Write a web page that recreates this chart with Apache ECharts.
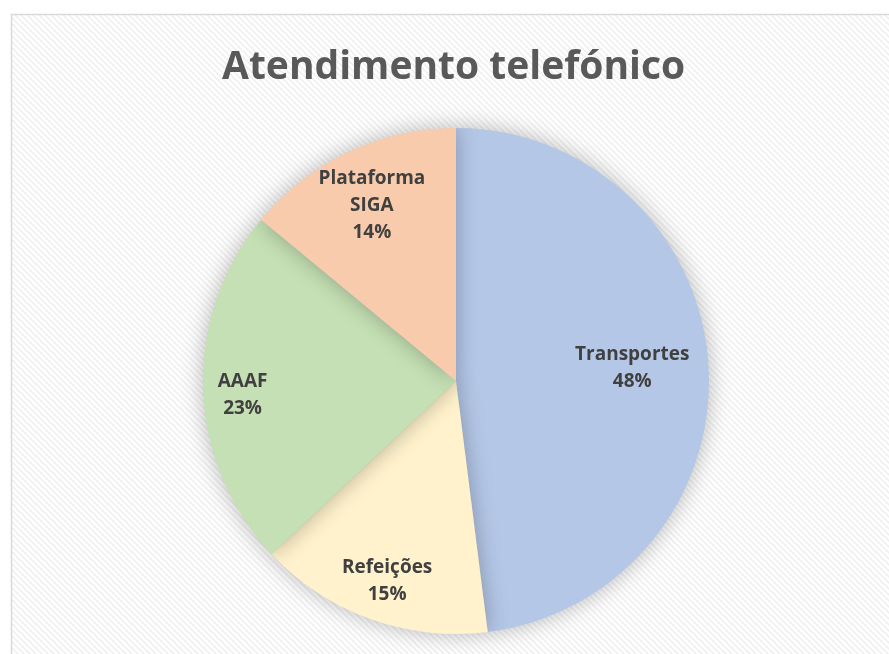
<!DOCTYPE html>
<html>
<head>
<meta charset="utf-8">
<script src="https://cdn.jsdelivr.net/npm/echarts@6/dist/echarts.min.js"></script>
<style>
  html, body { margin: 0; padding: 0; background: #fff; }
  #chart { width: 889px; height: 654px; }
</style>
</head>
<body>
<div id="chart"></div>
<script>
const categories = ['Transportes', 'Refeições', 'AAAF', 'Plataforma\nSIGA']
const values = [48, 15, 23, 14]
const colors = ['#B4C7E7', '#FFF2CC', '#C5E0B4', '#F8CBAD']
// nudge labels from the mid-radius spot toward where the original sits
const labelOffsets = [[47, -5], [-25, 78], [-84, 10], [-29, -58]]

// light diagonal hatch for the chart area
const makeHatch = () => {
  const c = document.createElement('canvas')
  c.width = 6
  c.height = 6
  const ctx = c.getContext('2d')
  ctx.fillStyle = '#ffffff'
  ctx.fillRect(0, 0, 6, 6)
  ctx.strokeStyle = '#f0f0f0'
  ctx.lineWidth = 1.6
  ctx.beginPath()
  ctx.moveTo(-1, -1); ctx.lineTo(7, 7)
  ctx.moveTo(-4, 2); ctx.lineTo(4, 10)
  ctx.moveTo(2, -4); ctx.lineTo(10, 4)
  ctx.stroke()
  return c
}

const chart = echarts.init(document.getElementById('chart'))

chart.setOption({
  backgroundColor: '#ffffff',
  title: {
    text: 'Atendimento telefónico',
    left: 217,
    top: 43,
    textStyle: {
      fontFamily: 'Open Sans',
      fontSize: 39,
      fontWeight: 'bold',
      color: '#595959'
    }
  },
  graphic: [{
    type: 'rect',
    z: -10,
    silent: true,
    shape: { x: 11.5, y: 14.5, width: 900, height: 700 },
    style: {
      fill: { image: makeHatch(), repeat: 'repeat' },
      stroke: '#d9d9d9',
      lineWidth: 1.5
    }
  }],
  series: [{
    type: 'pie',
    center: [456, 381],
    radius: 253,
    startAngle: 90,
    clockwise: true,
    avoidLabelOverlap: false,
    itemStyle: {
      shadowBlur: 22,
      shadowColor: 'rgba(0,0,0,0.28)'
    },
    label: {
      show: true,
      position: 'inside',
      fontFamily: 'Open Sans',
      fontSize: 19,
      fontWeight: 'bold',
      color: '#404040',
      lineHeight: 27,
      formatter: p => p.name + '\n' + p.value + '%'
    },
    labelLine: { show: false },
    emphasis: { disabled: true },
    data: categories.map((name, i) => ({
      name,
      value: values[i],
      itemStyle: { color: colors[i] },
      label: { offset: labelOffsets[i] }
    }))
  }]
})
</script>
</body>
</html>
